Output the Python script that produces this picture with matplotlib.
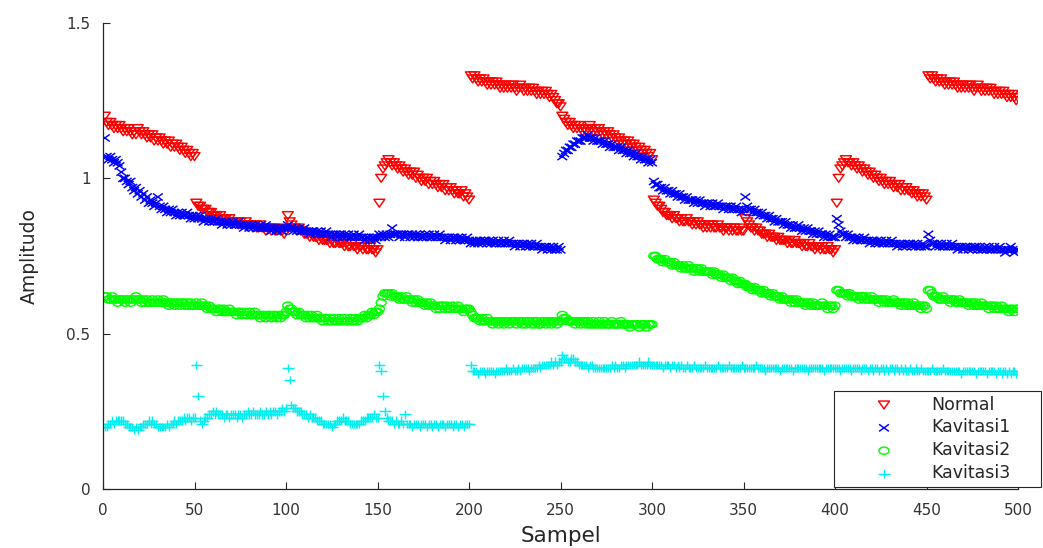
import numpy as np
import matplotlib
matplotlib.use('Agg')
import matplotlib.pyplot as plt
from matplotlib.path import Path

plt.rcParams['font.family'] = ['DejaVu Sans']

# sample index 1..500
sampel = np.arange(1, 501)

normal = [
	1.20,1.18,1.17,1.18,1.17,1.16,1.17,1.16,1.17,1.16,
	1.15,1.16,1.15,1.16,1.15,1.14,1.15,1.14,1.16,1.15,
	1.14,1.15,1.14,1.13,1.14,1.13,1.14,1.12,1.13,1.12,
	1.13,1.12,1.11,1.12,1.11,1.12,1.10,1.11,1.10,1.11,
	1.10,1.09,1.10,1.09,1.08,1.09,1.08,1.07,1.08,1.07,
	0.92,0.91,0.91,0.90,0.90,0.90,0.89,0.89,0.89,0.88,
	0.88,0.88,0.87,0.88,0.87,0.87,0.87,0.86,0.87,0.86,
	0.86,0.86,0.86,0.85,0.86,0.85,0.85,0.86,0.85,0.85,
	0.85,0.84,0.85,0.84,0.84,0.85,0.84,0.84,0.83,0.84,
	0.84,0.83,0.84,0.83,0.83,0.84,0.83,0.83,0.82,0.83,
	0.88,0.86,0.85,0.84,0.84,0.83,0.84,0.83,0.83,0.82,
	0.82,0.82,0.81,0.82,0.81,0.81,0.81,0.80,0.81,0.80,
	0.80,0.80,0.80,0.79,0.80,0.79,0.79,0.80,0.79,0.79,
	0.79,0.78,0.79,0.78,0.78,0.79,0.78,0.78,0.77,0.78,
	0.78,0.77,0.78,0.77,0.77,0.78,0.77,0.77,0.76,0.77,
	0.92,1.00,1.03,1.04,1.05,1.06,1.05,1.04,1.05,1.04,
	1.03,1.04,1.03,1.02,1.03,1.02,1.01,1.02,1.01,1.02,
	1.00,1.01,1.00,0.99,1.00,0.99,1.00,0.98,0.99,0.98,
	0.99,0.98,0.97,0.98,0.97,0.98,0.96,0.97,0.96,0.97,
	0.96,0.95,0.96,0.95,0.95,0.96,0.94,0.95,0.94,0.93,
	1.33,1.32,1.33,1.32,1.31,1.32,1.31,1.32,1.31,1.30,
	1.31,1.30,1.31,1.30,1.31,1.30,1.29,1.30,1.29,1.30,
	1.29,1.30,1.29,1.30,1.29,1.28,1.29,1.30,1.29,1.28,
	1.29,1.28,1.29,1.28,1.29,1.28,1.27,1.28,1.27,1.28,
	1.27,1.28,1.27,1.26,1.27,1.26,1.25,1.24,1.24,1.23,
	1.20,1.19,1.18,1.17,1.18,1.17,1.16,1.17,1.16,1.17,
	1.16,1.15,1.16,1.15,1.16,1.17,1.16,1.15,1.16,1.15,
	1.16,1.15,1.14,1.15,1.14,1.15,1.14,1.13,1.14,1.13,
	1.12,1.13,1.12,1.11,1.12,1.11,1.12,1.11,1.10,1.11,
	1.10,1.09,1.10,1.09,1.08,1.09,1.08,1.07,1.08,1.06,
	0.93,0.92,0.91,0.91,0.90,0.89,0.89,0.88,0.88,0.88,
	0.87,0.88,0.87,0.87,0.86,0.87,0.86,0.86,0.87,0.86,
	0.86,0.85,0.86,0.85,0.86,0.85,0.85,0.84,0.85,0.84,
	0.85,0.84,0.85,0.84,0.84,0.85,0.84,0.84,0.83,0.84,
	0.84,0.83,0.84,0.83,0.84,0.83,0.83,0.84,0.83,0.83,
	0.87,0.86,0.85,0.84,0.84,0.83,0.84,0.83,0.83,0.82,
	0.82,0.82,0.81,0.82,0.81,0.81,0.81,0.80,0.81,0.80,
	0.80,0.80,0.80,0.79,0.80,0.79,0.79,0.80,0.79,0.79,
	0.79,0.78,0.79,0.78,0.78,0.79,0.78,0.78,0.77,0.78,
	0.78,0.77,0.78,0.77,0.77,0.78,0.77,0.77,0.76,0.77,
	0.92,1.00,1.03,1.04,1.05,1.06,1.05,1.05,1.04,1.05,
	1.04,1.03,1.04,1.03,1.02,1.03,1.02,1.01,1.02,1.01,
	1.00,1.01,1.00,0.99,1.00,0.99,0.98,0.99,0.98,0.99,
	0.98,0.97,0.98,0.97,0.98,0.96,0.97,0.96,0.97,0.96,
	0.96,0.95,0.96,0.95,0.94,0.95,0.94,0.95,0.94,0.93,
	1.33,1.32,1.33,1.32,1.31,1.32,1.31,1.32,1.31,1.30,
	1.31,1.30,1.31,1.30,1.31,1.30,1.29,1.30,1.29,1.30,
	1.29,1.30,1.29,1.30,1.29,1.28,1.29,1.30,1.29,1.28,
	1.29,1.28,1.29,1.28,1.29,1.28,1.27,1.28,1.27,1.28,
	1.27,1.28,1.27,1.26,1.27,1.26,1.27,1.26,1.25,1.26,
]

kavitasi1 = [
	1.13,1.07,1.06,1.07,1.06,1.05,1.06,1.05,1.04,1.02,
	1.00,1.00,0.99,0.98,0.99,0.97,0.96,0.97,0.95,0.96,
	0.94,0.95,0.93,0.94,0.92,0.93,0.92,0.91,0.92,0.94,
	0.91,0.90,0.91,0.90,0.89,0.90,0.89,0.90,0.89,0.88,
	0.89,0.88,0.89,0.88,0.88,0.89,0.88,0.87,0.88,0.87,
	0.88,0.87,0.88,0.87,0.86,0.87,0.87,0.86,0.87,0.86,
	0.86,0.87,0.86,0.86,0.85,0.86,0.86,0.85,0.86,0.85,
	0.86,0.85,0.85,0.86,0.85,0.85,0.84,0.85,0.85,0.84,
	0.85,0.84,0.85,0.84,0.84,0.85,0.84,0.84,0.85,0.84,
	0.84,0.83,0.84,0.84,0.83,0.84,0.84,0.83,0.84,0.84,
	0.85,0.84,0.84,0.83,0.84,0.83,0.84,0.83,0.83,0.84,
	0.83,0.83,0.82,0.83,0.83,0.82,0.83,0.82,0.83,0.82,
	0.82,0.83,0.82,0.82,0.81,0.82,0.82,0.81,0.82,0.82,
	0.81,0.82,0.81,0.82,0.81,0.81,0.82,0.81,0.81,0.82,
	0.81,0.81,0.80,0.81,0.81,0.80,0.81,0.81,0.80,0.81,
	0.82,0.81,0.82,0.81,0.82,0.81,0.82,0.84,0.82,0.82,
	0.82,0.81,0.82,0.82,0.81,0.82,0.82,0.81,0.82,0.81,
	0.82,0.81,0.82,0.81,0.81,0.82,0.81,0.82,0.81,0.81,
	0.82,0.81,0.81,0.82,0.81,0.81,0.80,0.81,0.81,0.80,
	0.81,0.81,0.80,0.81,0.80,0.81,0.80,0.80,0.81,0.80,
	0.79,0.80,0.79,0.80,0.79,0.80,0.79,0.80,0.80,0.79,
	0.80,0.79,0.80,0.79,0.79,0.80,0.79,0.79,0.80,0.79,
	0.79,0.80,0.79,0.79,0.78,0.79,0.79,0.78,0.79,0.79,
	0.78,0.79,0.78,0.79,0.78,0.78,0.79,0.78,0.78,0.77,
	0.78,0.78,0.77,0.78,0.77,0.78,0.77,0.77,0.78,0.77,
	1.07,1.08,1.09,1.09,1.10,1.10,1.11,1.11,1.12,1.12,
	1.12,1.13,1.13,1.13,1.14,1.13,1.13,1.12,1.13,1.12,
	1.12,1.12,1.11,1.12,1.11,1.11,1.10,1.11,1.10,1.10,
	1.10,1.09,1.10,1.09,1.09,1.08,1.09,1.08,1.08,1.07,
	1.08,1.07,1.07,1.06,1.07,1.06,1.06,1.05,1.06,1.05,
	0.99,0.98,0.98,0.97,0.97,0.96,0.97,0.96,0.96,0.95,
	0.96,0.95,0.95,0.94,0.95,0.94,0.94,0.93,0.94,0.93,
	0.93,0.93,0.92,0.93,0.92,0.93,0.92,0.92,0.91,0.92,
	0.92,0.91,0.92,0.91,0.91,0.92,0.91,0.91,0.90,0.91,
	0.91,0.90,0.91,0.90,0.90,0.91,0.90,0.90,0.89,0.90,
	0.94,0.91,0.90,0.90,0.89,0.90,0.89,0.89,0.88,0.89,
	0.88,0.88,0.87,0.88,0.87,0.87,0.86,0.87,0.86,0.86,
	0.86,0.85,0.86,0.85,0.85,0.84,0.85,0.84,0.84,0.85,
	0.84,0.83,0.84,0.83,0.84,0.83,0.83,0.82,0.83,0.82,
	0.83,0.82,0.82,0.81,0.82,0.81,0.82,0.81,0.81,0.81,
	0.87,0.85,0.83,0.82,0.82,0.81,0.82,0.81,0.81,0.80,
	0.81,0.80,0.81,0.80,0.80,0.81,0.80,0.80,0.79,0.80,
	0.80,0.79,0.80,0.79,0.80,0.79,0.79,0.80,0.79,0.79,
	0.80,0.79,0.79,0.78,0.79,0.79,0.78,0.79,0.78,0.79,
	0.79,0.78,0.79,0.78,0.79,0.78,0.78,0.79,0.78,0.78,
	0.82,0.80,0.79,0.79,0.78,0.79,0.78,0.79,0.78,0.78,
	0.79,0.78,0.78,0.79,0.78,0.78,0.77,0.78,0.78,0.77,
	0.78,0.78,0.77,0.78,0.77,0.78,0.78,0.77,0.78,0.77,
	0.77,0.78,0.77,0.78,0.77,0.77,0.78,0.77,0.77,0.78,
	0.77,0.77,0.76,0.77,0.77,0.78,0.77,0.76,0.77,0.77,
]

kavitasi2 = [
	0.62,0.62,0.61,0.61,0.62,0.61,0.61,0.60,0.61,0.61,
	0.61,0.60,0.61,0.61,0.60,0.61,0.61,0.62,0.61,0.61,
	0.60,0.61,0.60,0.61,0.60,0.60,0.61,0.60,0.60,0.61,
	0.60,0.60,0.61,0.60,0.60,0.59,0.60,0.60,0.59,0.60,
	0.60,0.59,0.60,0.60,0.59,0.60,0.59,0.60,0.59,0.59,
	0.60,0.59,0.59,0.60,0.59,0.59,0.58,0.59,0.58,0.58,
	0.58,0.57,0.58,0.58,0.57,0.58,0.57,0.57,0.58,0.57,
	0.57,0.57,0.56,0.57,0.57,0.56,0.57,0.56,0.56,0.57,
	0.56,0.56,0.57,0.56,0.56,0.55,0.56,0.56,0.55,0.56,
	0.56,0.55,0.56,0.56,0.55,0.56,0.55,0.56,0.56,0.57,
	0.59,0.58,0.58,0.57,0.57,0.56,0.57,0.56,0.56,0.56,
	0.55,0.56,0.55,0.56,0.55,0.55,0.56,0.55,0.55,0.54,
	0.55,0.55,0.54,0.55,0.54,0.55,0.54,0.54,0.55,0.54,
	0.54,0.55,0.54,0.54,0.55,0.54,0.54,0.55,0.54,0.55,
	0.55,0.55,0.56,0.55,0.56,0.56,0.57,0.56,0.57,0.57,
	0.58,0.60,0.62,0.63,0.63,0.63,0.62,0.63,0.62,0.62,
	0.62,0.61,0.62,0.61,0.61,0.62,0.61,0.61,0.60,0.61,
	0.60,0.61,0.60,0.60,0.60,0.59,0.60,0.59,0.60,0.59,
	0.59,0.58,0.59,0.58,0.59,0.59,0.58,0.59,0.58,0.58,
	0.59,0.58,0.58,0.59,0.58,0.58,0.57,0.58,0.58,0.58,
	0.57,0.56,0.55,0.55,0.55,0.54,0.55,0.54,0.54,0.55,
	0.54,0.54,0.53,0.54,0.54,0.53,0.54,0.54,0.53,0.54,
	0.54,0.53,0.54,0.54,0.54,0.53,0.54,0.54,0.53,0.54,
	0.53,0.54,0.54,0.53,0.54,0.53,0.54,0.53,0.53,0.54,
	0.54,0.53,0.54,0.54,0.53,0.54,0.54,0.53,0.54,0.54,
	0.56,0.55,0.55,0.54,0.54,0.54,0.54,0.53,0.54,0.54,
	0.53,0.54,0.54,0.53,0.54,0.53,0.53,0.54,0.53,0.53,
	0.54,0.53,0.53,0.54,0.53,0.53,0.53,0.54,0.53,0.53,
	0.53,0.53,0.54,0.53,0.53,0.53,0.53,0.52,0.53,0.53,
	0.53,0.53,0.52,0.53,0.53,0.53,0.52,0.53,0.53,0.53,
	0.75,0.75,0.74,0.74,0.74,0.73,0.74,0.73,0.73,0.73,
	0.72,0.73,0.72,0.72,0.72,0.71,0.72,0.71,0.71,0.72,
	0.71,0.71,0.70,0.71,0.71,0.70,0.71,0.70,0.70,0.70,
	0.70,0.70,0.69,0.70,0.69,0.69,0.69,0.68,0.69,0.68,
	0.68,0.68,0.67,0.68,0.67,0.67,0.66,0.67,0.66,0.66,
	0.66,0.65,0.65,0.65,0.64,0.65,0.64,0.64,0.64,0.63,
	0.64,0.63,0.63,0.63,0.62,0.63,0.62,0.62,0.62,0.61,
	0.62,0.61,0.61,0.61,0.61,0.60,0.61,0.60,0.61,0.60,
	0.60,0.60,0.60,0.59,0.60,0.60,0.59,0.60,0.59,0.59,
	0.59,0.59,0.60,0.59,0.59,0.58,0.59,0.59,0.58,0.59,
	0.64,0.64,0.63,0.63,0.63,0.63,0.62,0.63,0.62,0.62,
	0.62,0.62,0.61,0.62,0.62,0.61,0.62,0.61,0.61,0.62,
	0.61,0.61,0.61,0.60,0.61,0.61,0.60,0.61,0.60,0.60,
	0.60,0.61,0.60,0.60,0.60,0.59,0.60,0.60,0.59,0.60,
	0.59,0.59,0.60,0.59,0.59,0.59,0.58,0.59,0.59,0.58,
	0.64,0.64,0.63,0.62,0.62,0.62,0.61,0.61,0.62,0.61,
	0.61,0.61,0.60,0.61,0.61,0.60,0.60,0.61,0.60,0.60,
	0.60,0.60,0.59,0.60,0.60,0.59,0.60,0.59,0.59,0.60,
	0.59,0.59,0.59,0.58,0.59,0.59,0.58,0.59,0.58,0.58,
	0.59,0.58,0.58,0.58,0.57,0.58,0.58,0.57,0.58,0.58,
]

kavitasi3 = [
	0.20,0.20,0.21,0.21,0.22,0.21,0.22,0.22,0.22,0.22,
	0.22,0.21,0.21,0.20,0.20,0.20,0.19,0.20,0.19,0.20,
	0.20,0.21,0.21,0.21,0.22,0.21,0.22,0.21,0.21,0.20,
	0.20,0.20,0.20,0.20,0.21,0.20,0.21,0.21,0.22,0.21,
	0.22,0.22,0.22,0.23,0.22,0.23,0.23,0.22,0.23,0.23,
	0.40,0.30,0.22,0.21,0.22,0.23,0.23,0.24,0.24,0.25,
	0.24,0.25,0.24,0.24,0.24,0.23,0.24,0.24,0.23,0.24,
	0.24,0.24,0.23,0.24,0.24,0.23,0.24,0.24,0.25,0.24,
	0.24,0.25,0.24,0.24,0.24,0.25,0.24,0.24,0.25,0.24,
	0.25,0.24,0.25,0.25,0.24,0.25,0.25,0.26,0.25,0.26,
	0.39,0.35,0.27,0.26,0.26,0.25,0.25,0.25,0.24,0.24,
	0.24,0.23,0.24,0.23,0.23,0.23,0.22,0.22,0.22,0.21,
	0.21,0.21,0.21,0.21,0.20,0.21,0.21,0.22,0.22,0.22,
	0.23,0.22,0.22,0.22,0.21,0.21,0.21,0.21,0.21,0.21,
	0.22,0.22,0.22,0.23,0.23,0.23,0.23,0.24,0.23,0.23,
	0.40,0.38,0.30,0.25,0.23,0.22,0.22,0.22,0.21,0.22,
	0.21,0.21,0.22,0.21,0.24,0.21,0.21,0.21,0.20,0.21,
	0.21,0.21,0.20,0.21,0.21,0.21,0.20,0.21,0.21,0.20,
	0.21,0.21,0.20,0.21,0.21,0.21,0.20,0.21,0.21,0.21,
	0.20,0.21,0.21,0.20,0.21,0.21,0.20,0.21,0.21,0.21,
	0.40,0.38,0.38,0.38,0.37,0.38,0.38,0.38,0.37,0.38,
	0.38,0.38,0.38,0.37,0.38,0.38,0.38,0.38,0.38,0.39,
	0.38,0.38,0.38,0.39,0.38,0.38,0.39,0.38,0.39,0.39,
	0.39,0.39,0.38,0.39,0.39,0.39,0.39,0.40,0.39,0.40,
	0.40,0.40,0.40,0.40,0.41,0.40,0.41,0.40,0.41,0.41,
	0.43,0.42,0.42,0.41,0.41,0.42,0.42,0.41,0.41,0.40,
	0.40,0.40,0.40,0.40,0.39,0.40,0.40,0.39,0.39,0.39,
	0.39,0.39,0.39,0.39,0.39,0.39,0.39,0.40,0.39,0.40,
	0.39,0.39,0.40,0.40,0.39,0.40,0.40,0.40,0.40,0.40,
	0.40,0.40,0.41,0.40,0.40,0.40,0.40,0.41,0.40,0.40,
	0.40,0.40,0.40,0.40,0.40,0.39,0.40,0.40,0.40,0.39,
	0.40,0.40,0.39,0.40,0.39,0.40,0.39,0.39,0.40,0.39,
	0.39,0.39,0.40,0.39,0.39,0.39,0.39,0.39,0.40,0.39,
	0.39,0.39,0.39,0.39,0.39,0.40,0.39,0.39,0.39,0.39,
	0.39,0.40,0.39,0.39,0.39,0.39,0.39,0.39,0.40,0.39,
	0.39,0.39,0.39,0.39,0.39,0.39,0.40,0.39,0.39,0.39,
	0.39,0.38,0.39,0.39,0.39,0.39,0.39,0.39,0.39,0.38,
	0.39,0.39,0.39,0.39,0.39,0.39,0.38,0.39,0.39,0.39,
	0.39,0.39,0.39,0.39,0.38,0.39,0.39,0.39,0.39,0.39,
	0.39,0.39,0.39,0.38,0.39,0.39,0.39,0.39,0.39,0.39,
	0.39,0.39,0.38,0.39,0.39,0.39,0.39,0.39,0.38,0.39,
	0.39,0.39,0.39,0.38,0.39,0.39,0.39,0.38,0.39,0.39,
	0.38,0.39,0.39,0.38,0.39,0.39,0.38,0.39,0.38,0.39,
	0.39,0.38,0.39,0.39,0.38,0.39,0.38,0.39,0.38,0.38,
	0.39,0.38,0.38,0.39,0.38,0.38,0.39,0.38,0.38,0.38,
	0.38,0.38,0.39,0.38,0.38,0.38,0.38,0.38,0.39,0.38,
	0.38,0.38,0.38,0.38,0.38,0.38,0.38,0.38,0.37,0.38,
	0.38,0.38,0.38,0.38,0.38,0.38,0.37,0.38,0.38,0.38,
	0.38,0.38,0.37,0.38,0.38,0.38,0.38,0.37,0.38,0.38,
	0.37,0.38,0.38,0.37,0.38,0.37,0.38,0.38,0.37,0.37,
]

labels = ["Normal", "Kavitasi1", "Kavitasi2", "Kavitasi3"]
xticks = [0, 50, 100, 150, 200, 250, 300, 350, 400, 450, 500]
yticks = [0, 0.5, 1, 1.5]
yticklabels = ["0", "0.5", "1", "1.5"]

# the picture is stretched sideways, so the markers are a bit wider than tall
asp = 0.72
M, L, C = Path.MOVETO, Path.LINETO, Path.CLOSEPOLY
tri = Path([(-1, asp), (1, asp), (0, -asp), (-1, asp)], [M, L, L, C])
cross = Path([(-1, -asp), (1, asp), (-1, asp), (1, -asp)], [M, L, M, L])
plus = Path([(-1, 0), (1, 0), (0, -asp), (0, asp)], [M, L, M, L])
uc = Path.unit_circle()
ring = Path(uc.vertices * [1, asp], uc.codes)

fig = plt.figure(figsize=(10.43, 5.48), dpi=100)
ax = fig.add_axes([103/1043, 59/548, 915/1043, 466/548])

lw = 1.05
ax.scatter(sampel, normal, s=62, marker=tri, facecolors='none', edgecolors='#ff0000', linewidths=lw, label=labels[0])
ax.scatter(sampel, kavitasi1, s=50, marker=cross, facecolors='none', edgecolors='#0000ff', linewidths=lw, label=labels[1])
ax.scatter(sampel, kavitasi2, s=52, marker=ring, facecolors='none', edgecolors='#00ff00', linewidths=lw, label=labels[2])
ax.scatter(sampel, kavitasi3, s=70, marker=plus, facecolors='none', edgecolors='#00f0f0', linewidths=lw, label=labels[3])

ax.set_xlim(0, 500)
ax.set_ylim(0, 1.5)
ax.set_xticks(xticks)
ax.set_yticks(yticks)
ax.set_yticklabels(yticklabels)
ax.spines['top'].set_visible(False)
ax.spines['right'].set_visible(False)
for sp in ['left', 'bottom']:
	ax.spines[sp].set_color('#262626')
	ax.spines[sp].set_linewidth(0.9)
ax.tick_params(direction='in', length=5, width=0.8, color='#262626', labelcolor='#333333', labelsize=11)
ax.tick_params(axis='x', pad=10)
ax.tick_params(axis='y', pad=9)

ax.set_xlabel("Sampel", fontsize=15.5, color='#262626')
ax.set_ylabel("Amplitudo", fontsize=13.5, color='#262626')
ax.xaxis.set_label_coords(0.5, (489 - 526) / 466)
ax.yaxis.set_label_coords((39 - 103) / 915, 0.5)

leg = ax.legend(loc='lower left', bbox_to_anchor=(834/1043, 61/548, 207/1043, 95/548), bbox_transform=fig.transFigure,
	mode='expand', borderaxespad=0, fancybox=False, edgecolor='#262626', framealpha=1, fontsize=12.5,
	scatterpoints=1, handlelength=5.2, handletextpad=0.1, labelspacing=0.28, borderpad=0.28)
leg.get_frame().set_linewidth(0.8)
for t in leg.get_texts():
	t.set_color('#262626')

plt.savefig("out.png", dpi=100)
